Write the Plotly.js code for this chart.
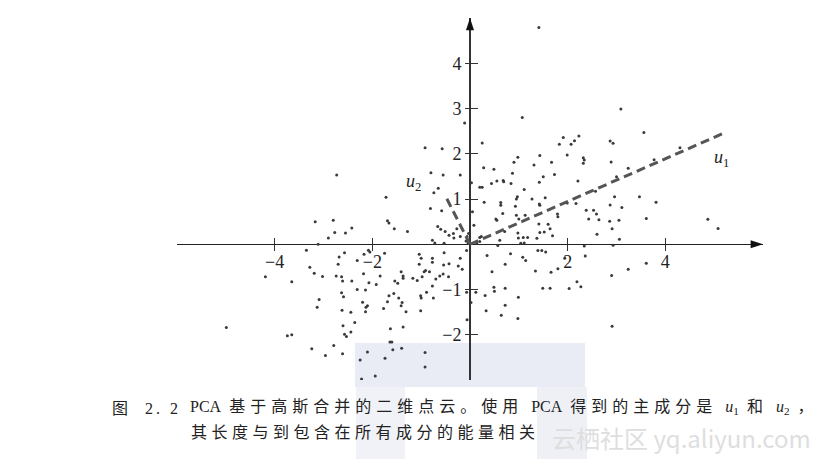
<!DOCTYPE html>
<html>
<head>
<meta charset="utf-8">
<script src="https://cdn.plot.ly/plotly-3.0.1.min.js"></script>
<style>
  html, body { margin: 0; padding: 0; background: #fff; }
  #chart { width: 839px; height: 459px; }
</style>
</head>
<body>
<div id="chart"></div>
<script>
// ---- data ----
const pointsX = [
-2.73,-3.17,-2.80,-2.42,-2.77,-2.55,-2.90,-3.11,-3.35,-2.08,-2.17,-2.05,-2.57,-2.68,-2.31,-2.70,-3.28,-4.19,-3.65,-3.19,
-3.02,-2.74,-2.63,-2.61,-2.42,-2.18,-2.07,-1.92,-2.31,-2.14,-2.63,-2.59,-3.09,-3.13,-2.20,-2.10,-2.13,-2.14,-2.62,-2.44,
-2.36,-2.60,-4.99,-3.74,-3.65,-2.57,-2.53,-2.44,-2.79,-3.24,-2.96,-2.61,-2.10,-2.25,-1.94,-2.22,
1.41,-0.11,1.07,-0.92,-0.57,0.25,1.83,1.43,0.98,0.90,0.28,0.49,1.31,1.67,-0.80,-0.55,-0.20,0.87,1.50,1.73,
0.03,0.20,0.25,0.44,0.55,0.68,0.69,0.84,1.11,1.42,-0.65,-0.74,-1.72,-0.81,-0.58,0.29,0.63,0.63,0.95,0.97,
0.93,1.27,1.42,1.43,1.54,0.05,0.67,0.95,1.13,1.00,0.53,0.55,1.79,1.80,0.08,1.41,1.60,1.64,1.43,1.52,
1.69,0.98,0.99,1.09,1.18,0.61,0.20,-0.34,-0.51,-0.27,-0.03,-1.69,-1.66,-1.55,-1.28,-0.66,-0.60,-0.43,-0.33,-0.20,
0.71,1.37,-0.06,0.23,-0.04,-0.08,-0.77,-0.72,-0.53,0.14,0.20,0.57,1.04,1.11,
-1.75,-1.04,-1.00,-0.77,-0.77,-0.53,-0.20,-0.07,0.35,0.83,1.08,1.14,1.39,1.47,1.55,-1.04,-0.54,-0.43,-0.24,-0.16,
0.72,0.45,1.34,1.66,1.80,-1.84,-1.41,-1.37,-1.37,-1.54,-1.48,-1.17,-1.08,-0.98,-0.94,-0.91,-0.83,-0.70,-0.62,-0.55,
-0.44,-0.77,-0.89,-1.01,-1.00,-0.75,-0.07,0.12,0.02,-1.66,-1.56,-1.46,-1.69,-1.39,-1.41,-1.31,-1.77,-1.01,0.31,0.49,
0.50,0.72,0.99,1.49,1.64,0.72,0.33,0.64,0.98,-0.06,-1.63,-1.37,-1.64,-1.60,-1.58,-1.40,-0.92,-1.74,-0.92,
3.09,3.56,1.91,2.14,2.23,2.07,2.87,2.93,1.99,2.32,2.34,2.32,2.89,3.24,3.77,4.30,2.21,3.00,2.57,2.96,
3.47,3.81,2.17,1.99,2.87,3.11,2.38,2.53,2.59,2.43,2.64,3.05,2.86,3.61,2.91,2.60,3.06,4.87,5.08,
2.34,2.93,2.36,1.94,2.90,3.24,3.61,2.19,2.03,2.27,2.91
];
const pointsY = [
1.53,0.50,0.53,0.36,0.26,0.25,0.14,0.00,-0.13,-0.13,-0.22,-0.17,-0.19,-0.28,-0.36,-0.44,-0.51,-0.72,-0.83,-0.64,
-0.71,-0.70,-0.72,-0.81,-0.81,-0.65,-0.85,-0.89,-1.00,-1.01,-1.07,-1.16,-1.22,-1.39,-1.28,-1.36,-1.39,-1.49,-1.46,-1.50,
-1.73,-1.80,-1.84,-2.02,-2.00,-1.99,-2.04,-1.94,-2.24,-2.31,-2.46,-2.42,-2.38,-2.56,-2.91,-2.98,
4.79,2.68,2.80,2.13,2.11,2.24,2.21,1.96,1.92,1.81,1.69,1.66,1.75,1.81,1.58,1.53,1.53,1.57,1.49,1.54,
1.36,1.26,1.26,1.34,1.40,1.41,1.38,1.34,1.21,1.37,1.24,1.14,1.04,0.79,0.74,0.93,0.92,0.86,1.00,1.05,
0.84,1.00,0.89,0.86,1.03,0.72,0.68,0.64,0.64,0.56,0.56,0.53,0.67,0.61,0.42,0.45,0.44,0.34,0.26,0.27,
0.19,0.25,0.14,0.15,0.15,0.09,0.15,0.24,0.28,0.34,0.24,0.52,0.47,0.34,0.28,0.39,0.33,0.20,0.14,0.17,
0.28,0.13,0.17,0.17,0.03,0.07,0.09,0.03,0.02,0.03,0.06,-0.03,0.02,0.03,
-0.20,-0.22,-0.31,-0.31,-0.40,-0.19,-0.31,-0.14,-0.25,-0.21,-0.29,-0.36,-0.14,-0.14,-0.17,-0.44,-0.46,-0.43,-0.48,-0.55,
-0.44,-0.61,-0.59,-0.62,-0.54,-0.70,-0.61,-0.70,-0.75,-0.81,-0.86,-0.75,-0.80,-0.72,-0.61,-0.58,-0.61,-0.77,-0.70,-0.66,
-0.72,-0.92,-1.06,-1.14,-1.19,-1.19,-1.06,-1.06,-1.29,-1.14,-1.09,-1.19,-1.27,-1.29,-1.36,-1.49,-1.42,-1.47,-1.13,-0.95,
-1.04,-0.97,-1.17,-0.97,-0.97,-1.35,-1.47,-1.57,-1.64,-1.67,-1.87,-1.83,-2.16,-2.16,-2.33,-2.30,-2.39,-2.52,-2.71,
2.99,2.47,2.36,2.29,2.39,2.21,2.28,2.23,1.97,1.91,1.86,1.79,1.82,1.68,1.87,2.13,1.40,1.49,1.17,1.05,
1.05,0.93,0.90,0.91,0.87,0.81,0.75,0.75,0.67,0.56,0.54,0.53,0.51,0.57,0.34,0.22,0.11,0.55,0.35,
-0.04,-0.02,-0.26,-0.31,-0.69,-0.55,-0.42,-0.83,-0.98,-0.94,-1.81
];
// principal component vectors (start at origin)
const u1X = [0, 5.25];
const u1Y = [0, 2.48];
const u2X = [0, -0.50];
const u2Y = [0, 1.06];
// axes
const xRange = [-6, 6];
const yRange = [-3, 5];
const xTickVals = [-4, -2, 2, 4];
const xTickText = ['\u22124', '\u22122', '2', '4'];
const yTickVals = [-2, -1, 1, 2, 3, 4];
const yTickText = ['\u22122', '\u22121', '1', '2', '3', '4'];
// text
const SP = '<span style="letter-spacing:5px">';
const S2 = '&nbsp;&nbsp;';
const captionNum = '<span style="letter-spacing:3px">图&nbsp;&nbsp;2.&nbsp;2</span>';
const captionLine1 = 'PCA' + S2 + SP + '基于高斯合并的二维点云。使用</span>' + S2 + 'PCA' + S2 +
  SP + '得到的主成分是</span>' + S2 + '<i>u</i><sub>1</sub>' + S2 + SP + '和</span>' + S2 + '<i>u</i><sub>2</sub>' + S2 + '，';
const captionLine2 = '<span style="letter-spacing:4.5px">其长度与到包含在所有成分的能量相关</span>';
const watermarkText = '云栖社区 yq.aliyun.com';

// ---- layout geometry ----
const W = 839, H = 459;
const M = {l: 177, r: 76, t: 18, b: 79};
const PW = W - M.l - M.r, PH = H - M.t - M.b;
const px = v => (v - M.l) / PW;          // page x pixel -> paper
const py = v => (H - M.b - v) / PH;      // page y pixel -> paper
const xZeroPos = (0 - xRange[0]) / (xRange[1] - xRange[0]);
const yZeroPos = (0 - yRange[0]) / (yRange[1] - yRange[0]);

const serif = 'Liberation Serif';
const capFont = 'Liberation Serif, Noto Sans CJK SC';

const traces = [
  { type: 'scatter', mode: 'markers', x: pointsX, y: pointsY,
    marker: {size: 3, color: '#3a3a3a'}, hoverinfo: 'skip' },
  { type: 'scatter', mode: 'lines', x: u1X, y: u1Y,
    line: {color: '#555', width: 3, dash: '9px,5px'}, hoverinfo: 'skip' },
  { type: 'scatter', mode: 'lines', x: u2X, y: u2Y,
    line: {color: '#555', width: 3, dash: '9px,5px'}, hoverinfo: 'skip' },
  // arrow heads at the ends of the axes
  { type: 'scatter', mode: 'markers', x: [xRange[1], 0], y: [0, yRange[1]],
    marker: {symbol: 'arrow', size: 13, angle: [90, 0], color: '#111'},
    cliponaxis: false, hoverinfo: 'skip' },
  // empty trace to activate the second (tick-only) axes
  { type: 'scatter', mode: 'markers', x: [], y: [], xaxis: 'x2', yaxis: 'y2', hoverinfo: 'skip' }
];

const layout = {
  width: W, height: H,
  margin: M,
  paper_bgcolor: '#fff', plot_bgcolor: 'rgba(0,0,0,0)',
  showlegend: false, hovermode: false,
  xaxis: {
    range: xRange, anchor: 'free', position: yZeroPos,
    showgrid: false, showline: false,
    zeroline: true, zerolinecolor: '#333', zerolinewidth: 1.3,
    tickmode: 'array', tickvals: xTickVals, ticktext: xTickText,
    ticks: 'outside', ticklen: 6, tickwidth: 1, tickcolor: '#333',
    ticklabelstandoff: -5,
    tickfont: {family: serif, size: 18, color: '#222'}
  },
  xaxis2: {
    range: xRange, overlaying: 'x', side: 'top', anchor: 'free', position: yZeroPos,
    showgrid: false, showline: false, zeroline: false,
    tickmode: 'array', tickvals: xTickVals, showticklabels: false,
    ticks: 'outside', ticklen: 6, tickwidth: 1, tickcolor: '#333'
  },
  yaxis: {
    range: yRange, anchor: 'free', position: xZeroPos, side: 'left',
    showgrid: false, showline: false,
    zeroline: true, zerolinecolor: '#222', zerolinewidth: 1.1,
    tickmode: 'array', tickvals: yTickVals, ticktext: yTickText,
    ticks: 'outside', ticklen: 5, tickwidth: 1, tickcolor: '#333',
    tickfont: {family: serif, size: 18, color: '#222'}
  },
  yaxis2: {
    range: yRange, overlaying: 'y', side: 'right', anchor: 'free', position: xZeroPos,
    showgrid: false, showline: false, zeroline: false,
    tickmode: 'array', tickvals: yTickVals, showticklabels: false,
    ticks: 'outside', ticklen: 7, tickwidth: 1, tickcolor: '#333'
  },
  shapes: [
    {type: 'rect', xref: 'paper', yref: 'paper', layer: 'below', line: {width: 0},
     x0: px(355), x1: px(585), y0: py(387), y1: py(343), fillcolor: '#e9ecf4'},
    {type: 'rect', xref: 'paper', yref: 'paper', layer: 'below', line: {width: 0},
     x0: px(356), x1: px(405), y0: py(459), y1: py(387), fillcolor: '#f0f2f7'},
    {type: 'rect', xref: 'paper', yref: 'paper', layer: 'below', line: {width: 0},
     x0: px(537), x1: px(587), y0: py(459), y1: py(387), fillcolor: '#eef0f6'}
  ],
  annotations: [
    {x: 5.16, y: 1.90, xref: 'x', yref: 'y', showarrow: false,
     text: '<i>u</i><sub>1</sub>', font: {family: serif, size: 18, color: '#222'}},
    {x: -1.15, y: 1.37, xref: 'x', yref: 'y', showarrow: false,
     text: '<i>u</i><sub>2</sub>', font: {family: serif, size: 18, color: '#222'}},
    {x: px(146), y: py(408), xref: 'paper', yref: 'paper', xanchor: 'center', yanchor: 'middle',
     showarrow: false, text: captionNum, font: {family: capFont, size: 16, color: '#222'}},
    {x: px(502), y: py(407), xref: 'paper', yref: 'paper', xanchor: 'center', yanchor: 'middle',
     showarrow: false, text: captionLine1, font: {family: capFont, size: 16, color: '#222'}},
    {x: px(365), y: py(432), xref: 'paper', yref: 'paper', xanchor: 'center', yanchor: 'middle',
     showarrow: false, text: captionLine2, font: {family: capFont, size: 16, color: '#222'}},
    {x: px(681), y: py(437), xref: 'paper', yref: 'paper', xanchor: 'center', yanchor: 'middle',
     showarrow: false, text: watermarkText, font: {family: 'Noto Sans CJK SC', size: 24, color: '#dedede'}}
  ]
};

Plotly.newPlot('chart', traces, layout, {displayModeBar: false, staticPlot: true});
</script>
</body>
</html>
